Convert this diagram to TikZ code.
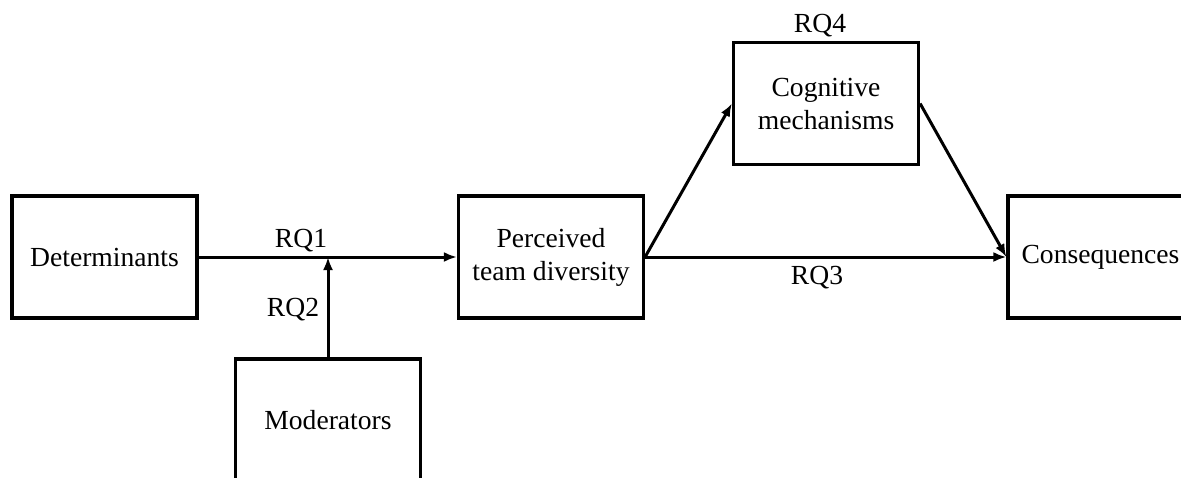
\documentclass[tikz,border=0pt]{standalone}
\usepackage{fontspec}
\setmainfont{Liberation Serif}
\usetikzlibrary{arrows.meta}
\begin{document}
\begin{tikzpicture}[x=1pt,y=-1pt,
  box/.style={draw=black,line width=3.2pt,minimum width=185pt,minimum height=122pt,
    inner sep=0pt,align=center,font=\fontsize{27.6}{33}\selectfont},
  lbl/.style={inner sep=0pt,font=\fontsize{27.6}{33}\selectfont},
  link/.style={line width=3pt,-{Latex[length=13pt,width=10pt]}}]
  \useasboundingbox (0,0) rectangle (1181,477);
  \clip (0,0) rectangle (1181,477);
  % boxes
  \node[box] (det)  at (104.5,257)  {Determinants};
  \node[box] (per)  at (551,257)    {Perceived\\team diversity};
  \node[box] (cog)  at (826,103.5)  {Cognitive\\mechanisms};
  \node[box] (cons) at (1100.5,257) {Consequences};
  \node[box] (mod)  at (328,420)    {Moderators};
  % point where the moderator arrow meets the main path
  \coordinate (mid) at (328,257);
  % connectors
  \draw[link] (det) -- (per);
  \draw[link] (mod) -- (mid);
  \draw[link] (per.east) -- (cog.west);
  \draw[link] (cog.east) -- (cons.west);
  \draw[link] (per) -- (cons);
  % research question labels
  \node[lbl] (rq1) at (301,241) {RQ1};
  \node[lbl] (rq2) at (293,310) {RQ2};
  \node[lbl] (rq3) at (817,278) {RQ3};
  \node[lbl] (rq4) at (820,26)  {RQ4};
\end{tikzpicture}
\end{document}
